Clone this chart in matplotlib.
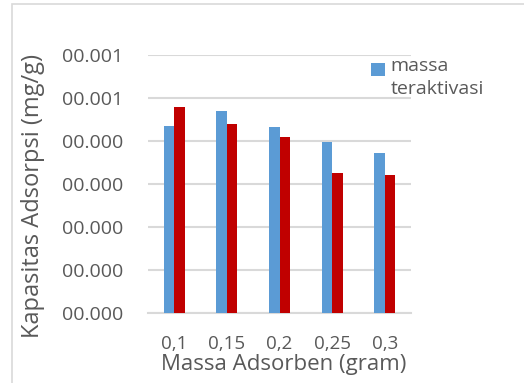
import matplotlib
matplotlib.use("Agg")
import matplotlib.pyplot as plt
import numpy as np
from matplotlib.patches import Rectangle
from matplotlib.legend_handler import HandlerPatch
from matplotlib.ticker import FuncFormatter

plt.rcParams['font.family'] = ['Open Sans', 'DejaVu Sans']

# data
massa = ['0,1', '0,15', '0,2', '0,25', '0,3']
teraktivasi = [0.000434, 0.000470, 0.000432, 0.000397, 0.000372]
tanpa_aktivasi = [0.000480, 0.000439, 0.000409, 0.000326, 0.000320]
yticks = [i * 0.0001 for i in range(7)]

abu = '#595959'
biru = '#5B9BD5'
merah = '#C00000'

fig = plt.figure(figsize=(5.24, 3.83), dpi=100)
W, H = 524, 383
ax = fig.add_axes([148 / W, (H - 313) / H, (411 - 148) / W, (313 - 55) / H])

# outer chart frame (runs off the right and bottom edge)
fig.patches.append(Rectangle((12 / W, -0.1), 1.2, (H - 4) / H + 0.1,
                             transform=fig.transFigure, fill=False,
                             edgecolor='#D9D9D9', linewidth=1.2))

x = np.arange(len(massa))
w = 0.2
ax.bar(x - w / 2, teraktivasi, w, color=biru, zorder=3)
ax.bar(x + w / 2, tanpa_aktivasi, w, color=merah, zorder=3)

ax.set_xlim(-0.5, len(massa) - 0.5)
ax.set_ylim(0, 0.0006)
ax.set_yticks(yticks)
ax.yaxis.set_major_formatter(FuncFormatter(lambda v, p: f'{v:06.3f}'))
ax.set_xticks(x)
ax.set_xticklabels(massa)
ax.grid(axis='y', color='#D9D9D9', linewidth=1.5, zorder=0)
for s in ['top', 'right', 'left']:
    ax.spines[s].set_visible(False)
ax.spines['bottom'].set_color('#D9D9D9')
ax.spines['bottom'].set_linewidth(1.5)
ax.tick_params(length=0, labelcolor=abu)
ax.tick_params(axis='y', pad=18, labelsize=14)
ax.tick_params(axis='x', pad=16, labelsize=13.5)

ax.set_xlabel('Massa Adsorben (gram)', fontsize=16, color=abu)
ax.set_ylabel('Kapasitas Adsorpsi (mg/g)', fontsize=17, color=abu)
ax.xaxis.set_label_coords(0.517, -0.158)
ax.yaxis.set_label_coords(-0.39, 0.453)


def kotak_atas(legend, orig_handle, xdescent, ydescent, width, height, fontsize):
    # square sits next to the first line of a two-line label
    s = width
    return Rectangle((-xdescent, -ydescent + height - s * 1.05), s, s)


proxy = Rectangle((0, 0), 1, 1, facecolor=biru, edgecolor='none')
leg = ax.legend(handles=[proxy], labels=['massa\nteraktivasi'],
                loc='upper left', frameon=False, fontsize=14,
                handlelength=0.7, handleheight=2.2, handletextpad=0.3,
                labelcolor=abu, borderpad=0, borderaxespad=0,
                handler_map={proxy: HandlerPatch(patch_func=kotak_atas)})
leg.set_bbox_to_anchor(((371 - 148) / 263, (313 - 57) / 258), transform=ax.transAxes)
for t in leg.get_texts():
    t.set_linespacing(1.35)

fig.savefig('out.png', dpi=100)
